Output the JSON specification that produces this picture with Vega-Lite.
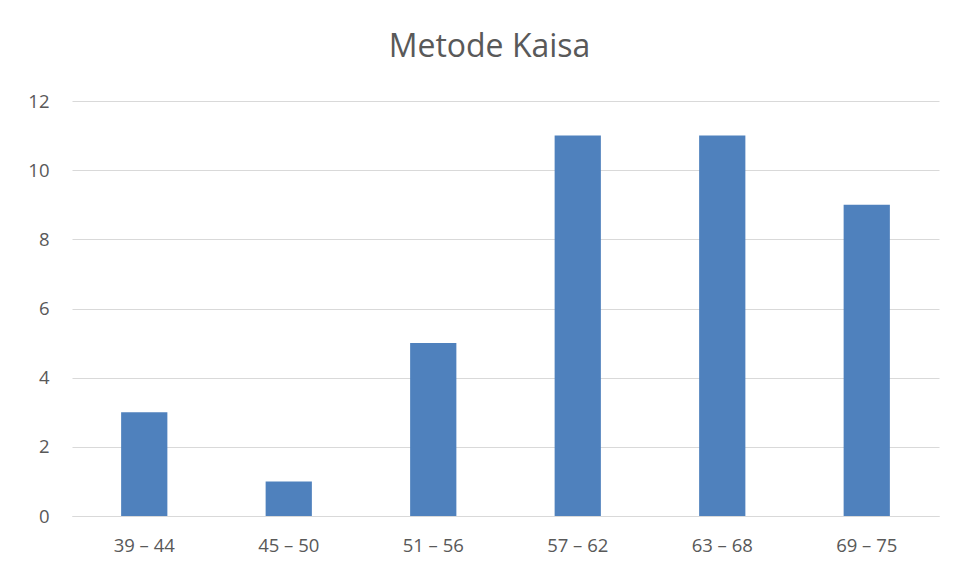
{
  "$schema": "https://vega.github.io/schema/vega-lite/v6.json",
  "width": 867,
  "height": 415,
  "autosize": {"type": "none"},
  "padding": {"left": 72, "top": 101, "right": 19, "bottom": 63},
  "background": "white",
  "title": {"text": "Metode Kaisa", "fontSize": 32, "font": "Open Sans", "fontWeight": "normal", "color": "#595959", "offset": 28, "anchor": "middle", "dx": -16},
  "data": {"values": [
    {"kelas": "39 – 44", "n": 3},
    {"kelas": "45 – 50", "n": 1},
    {"kelas": "51 – 56", "n": 5},
    {"kelas": "57 – 62", "n": 11},
    {"kelas": "63 – 68", "n": 11},
    {"kelas": "69 – 75", "n": 9}
  ]},
  "mark": {"type": "bar", "color": "#4f81bd"},
  "encoding": {
    "x": {"field": "kelas", "type": "nominal", "sort": null, "title": null,
      "scale": {"paddingInner": 0.68, "paddingOuter": 0.34},
      "axis": {"labelAngle": 0, "ticks": false, "domainColor": "#d9d9d9", "labelPadding": 20, "labelFontSize": 18.5, "labelFont": "Open Sans", "labelColor": "#595959"}},
    "y": {"field": "n", "type": "quantitative", "title": null,
      "scale": {"domain": [0, 12]},
      "axis": {"values": [0, 2, 4, 6, 8, 10, 12], "ticks": false, "domain": false, "gridColor": "#d9d9d9", "labelPadding": 23, "labelFontSize": 18.5, "labelFont": "Open Sans", "labelColor": "#595959"}}
  },
  "config": {"view": {"stroke": null}}
}
